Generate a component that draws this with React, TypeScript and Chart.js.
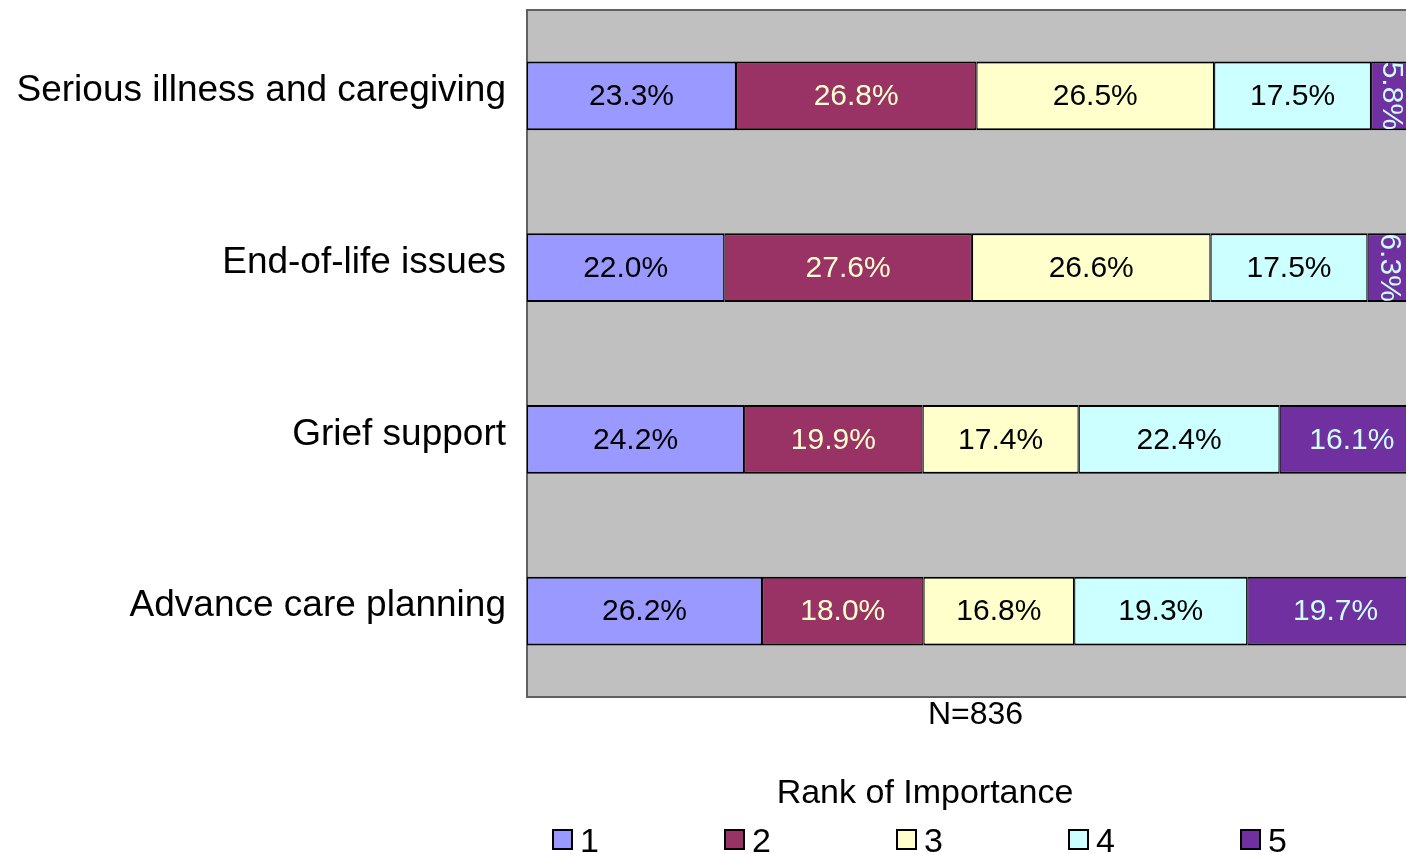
import React, { useEffect, useRef } from "react";
import { Chart, registerables } from "chart.js";

Chart.register(...registerables);

const categories = [
  "Serious illness and caregiving",
  "End-of-life issues",
  "Grief support",
  "Advance care planning",
];
const rankLabels = ["1", "2", "3", "4", "5"];
const rank1 = [23.3, 22.0, 24.2, 26.2];
const rank2 = [26.8, 27.6, 19.9, 18.0];
const rank3 = [26.5, 26.6, 17.4, 16.8];
const rank4 = [17.5, 17.5, 22.4, 19.3];
const rank5 = [5.8, 6.3, 16.1, 19.7];
const seriesValues = [rank1, rank2, rank3, rank4, rank5];

const fillColors = ["#9999FF", "#993366", "#FFFFCC", "#CCFFFF", "#7030A0"];
const labelColors = ["#000000", "#FFFFCC", "#000000", "#000000", "#CCFFFF"];
const axisTitle = "N=836";
const legendTitle = "Rank of Importance";
const FONT = '"Liberation Sans", Arial, Helvetica, sans-serif';

const plotBgPlugin = {
  id: "plotBg",
  beforeDatasetsDraw(chart: any) {
    const { ctx, chartArea: a } = chart;
    ctx.save();
    ctx.fillStyle = "#C0C0C0";
    ctx.fillRect(a.left, a.top, a.right - a.left, a.bottom - a.top);
    ctx.strokeStyle = "#606060";
    ctx.lineWidth = 2;
    ctx.strokeRect(a.left, a.top, a.right - a.left, a.bottom - a.top);
    ctx.restore();
  },
};

const valueLabelPlugin = {
  id: "valueLabels",
  afterDatasetsDraw(chart: any) {
    const { ctx } = chart;
    ctx.save();
    ctx.font = `30px ${FONT}`;
    ctx.textAlign = "center";
    ctx.textBaseline = "middle";
    chart.data.datasets.forEach((ds: any, i: number) => {
      const meta = chart.getDatasetMeta(i);
      meta.data.forEach((bar: any, j: number) => {
        const v = ds.data[j];
        const { x, base, y } = bar.getProps(["x", "base", "y"], true);
        const cx = (x + base) / 2;
        const text = v.toFixed(1) + "%";
        const w = ctx.measureText(text).width;
        const bw = Math.abs(x - base);
        ctx.fillStyle = labelColors[i];
        if (w > bw - 6) {
          ctx.save();
          ctx.translate(cx - 6, y);
          ctx.rotate(Math.PI / 2);
          ctx.fillText(text, 0, 0);
          ctx.restore();
        } else {
          ctx.fillText(text, cx, y + 1);
        }
      });
    });
    ctx.restore();
  },
};

const customLegendPlugin = {
  id: "customLegend",
  afterDraw(chart: any) {
    const { ctx } = chart;
    ctx.save();
    ctx.fillStyle = "#000000";
    ctx.font = `34px ${FONT}`;
    ctx.textAlign = "center";
    ctx.textBaseline = "alphabetic";
    ctx.fillText(legendTitle, 925, 803);
    ctx.font = `34px ${FONT}`;
    ctx.textAlign = "left";
    chart.data.datasets.forEach((ds: any, i: number) => {
      const bx = 553 + i * 172;
      const by = 830;
      ctx.fillStyle = ds.backgroundColor;
      ctx.fillRect(bx, by, 19, 19);
      ctx.strokeStyle = "#000000";
      ctx.lineWidth = 2;
      ctx.strokeRect(bx, by, 19, 19);
      ctx.fillStyle = "#000000";
      ctx.fillText(ds.label, bx + 27, 852);
    });
    ctx.restore();
  },
};

export default function App() {
  const canvasRef = useRef<HTMLCanvasElement | null>(null);

  useEffect(() => {
    if (!canvasRef.current) return;
    const chart = new Chart(canvasRef.current, {
      type: "bar",
      data: {
        labels: categories,
        datasets: seriesValues.map((vals, i) => ({
          label: rankLabels[i],
          data: vals,
          backgroundColor: fillColors[i],
          borderColor: "#000000",
          borderWidth: { top: 2, bottom: 2, left: 1.2, right: 1.2 },
          borderSkipped: false,
          inflateAmount: 0,
          barPercentage: 1,
          categoryPercentage: 0.4,
        })),
      },
      options: {
        indexAxis: "y",
        animation: false,
        responsive: true,
        maintainAspectRatio: false,
        layout: { padding: { top: 10, left: 0, right: 0, bottom: 0 } },
        plugins: {
          legend: { display: false },
          tooltip: { enabled: false },
          title: { display: false },
        },
        scales: {
          x: {
            stacked: true,
            min: 0,
            max: 100,
            grid: { display: false },
            border: { display: false },
            ticks: { display: false },
            title: {
              display: true,
              text: axisTitle,
              color: "#000000",
              font: { family: FONT, size: 32 },
              padding: { top: 0, bottom: 119 },
            },
            afterFit(scale: any) {
              scale.height = 156;
              scale.paddingLeft = 0;
              scale.paddingRight = 0;
            },
          },
          y: {
            stacked: true,
            grid: { display: false, drawTicks: false },
            border: { display: false },
            ticks: {
              color: "#000000",
              font: { family: FONT, size: 37 },
              padding: 21,
              labelOffset: -5,
            },
            afterFit(scale: any) {
              scale.width = 527;
              scale.paddingTop = 0;
              scale.paddingBottom = 0;
            },
          },
        },
      },
      plugins: [plotBgPlugin, valueLabelPlugin, customLegendPlugin],
    } as any);
    return () => chart.destroy();
  }, []);

  return (
    <div
      style={{
        position: "fixed",
        left: 0,
        top: 0,
        width: 1406,
        height: 853,
        overflow: "hidden",
        background: "#ffffff",
      }}
    >
      <div style={{ position: "relative", width: 1424, height: 853 }}>
        <canvas ref={canvasRef} />
      </div>
    </div>
  );
}
